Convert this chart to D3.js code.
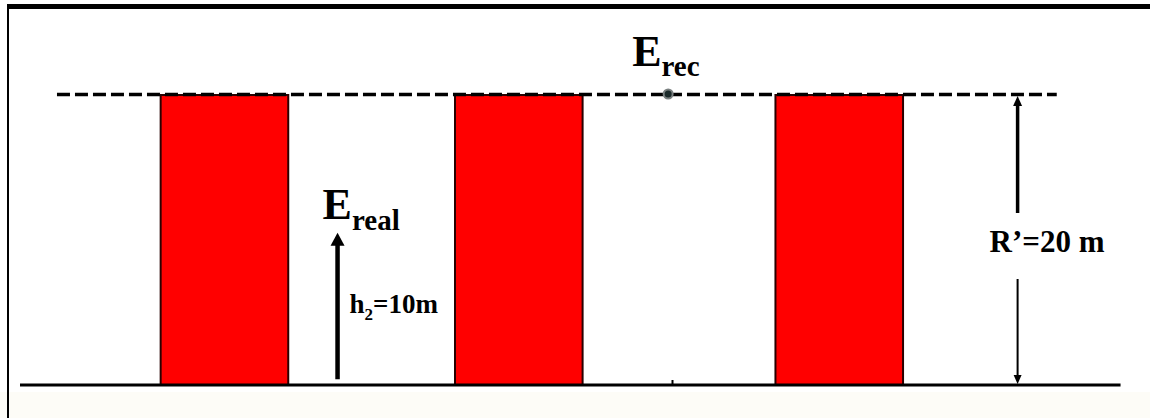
<!DOCTYPE html>
<html>
<head>
<meta charset="utf-8">
<script src="https://cdn.jsdelivr.net/npm/d3@7"></script>
<style>
  body { margin: 0; background: #fff; }
  text { font-family: "Liberation Serif", "Times New Roman", serif; font-weight: bold; fill: #000; }
</style>
</head>
<body>
<div id="sampleGraph"></div>
<script>
// values in metres
var buildingStart = [9.7, 30.0, 52.1];
var buildingWidth = 8.8;
var buildingHeight = 20;
var groundExtent = [0, 75.9];
var dashExtent = [2.55, 71.5];
var receiver = { x: 44.7, h: 20, label: "E", sub: "rec" };
var groundTick = 45.0;
var realPoint = { x: 21.9, from: 0.4, to: 10.5, label: "E", sub: "real" };
var h2Label = ["h", "2", "=10m"];
var rLabel = "R\u2019=20 m";
var rArrowX = 68.8;

var w = 1150, h = 418;
var svg, x, y;

// triangle head with its tip at (cx, cy); dir -1 = up, 1 = down
function head(cx, cy, hw, hl, dir){
  svg.append("path")
    .attr("d", "M" + cx + "," + cy +
               " L" + (cx + hw / 2) + "," + (cy - dir * hl) +
               " L" + (cx - hw / 2) + "," + (cy - dir * hl) + " Z")
    .attr("fill", "#000");
}

function main(){
  svg = d3.select("#sampleGraph")
    .append("svg")
    .attr("width", w)
    .attr("height", h);

  svg.append("rect").attr("width", w).attr("height", h).attr("fill", "#fff");
  svg.append("rect").attr("x", 0).attr("y", 392).attr("width", w).attr("height", h - 392).attr("fill", "#fdfcf7");

  // 14.5 px per metre both ways
  y = d3.scaleLinear().domain([0, 20]).range([385, 95]);
  x = d3.scaleLinear().domain([0, 20]).range([20, 310]);

  // frame
  svg.append("rect").attr("x", 7).attr("y", 4).attr("width", w - 7).attr("height", 5).attr("fill", "#000");
  svg.append("line").attr("x1", 8).attr("x2", 8).attr("y1", 4).attr("y2", h)
    .attr("stroke", "#000").attr("stroke-width", 2);

  // buildings
  svg.selectAll("rect.bld")
    .data(buildingStart)
    .enter()
    .append("rect")
    .attr("class", "bld")
    .attr("x", function(d){ return x(d); })
    .attr("y", y(buildingHeight))
    .attr("width", x(buildingWidth) - x(0))
    .attr("height", y(0) - y(buildingHeight))
    .attr("fill", "#ff0000")
    .attr("stroke", "#2a0000")
    .attr("stroke-width", 2);

  // dashed roof line
  svg.append("line")
    .attr("x1", x(dashExtent[0])).attr("x2", x(dashExtent[1]))
    .attr("y1", y(buildingHeight) - 0.5).attr("y2", y(buildingHeight) - 0.5)
    .attr("stroke", "#000").attr("stroke-width", 3.5)
    .attr("stroke-dasharray", "13,5");

  // ground
  svg.append("line")
    .attr("x1", x(groundExtent[0])).attr("x2", x(groundExtent[1]))
    .attr("y1", y(0)).attr("y2", y(0))
    .attr("stroke", "#000").attr("stroke-width", 3);
  svg.append("line")
    .attr("x1", x(groundTick)).attr("x2", x(groundTick))
    .attr("y1", y(0)).attr("y2", y(0) - 5)
    .attr("stroke", "#000").attr("stroke-width", 2);

  // receiver point
  svg.append("circle")
    .attr("cx", x(receiver.x)).attr("cy", y(receiver.h) - 1)
    .attr("r", 4.5)
    .attr("fill", "#1c2b2b").attr("stroke", "#7a8080").attr("stroke-width", 2);
  var t1 = svg.append("text")
    .attr("x", x(receiver.x) - 36).attr("y", y(receiver.h) - 29)
    .style("font-size", "44px");
  t1.append("tspan").text(receiver.label);
  t1.append("tspan").attr("dy", 10).style("font-size", "29px").text(receiver.sub);

  // real point arrow
  var ax = x(realPoint.x);
  svg.append("line")
    .attr("x1", ax).attr("x2", ax)
    .attr("y1", y(realPoint.from)).attr("y2", y(realPoint.to) + 10)
    .attr("stroke", "#000").attr("stroke-width", 4.5);
  head(ax, y(realPoint.to), 14, 13, -1);
  var t2 = svg.append("text")
    .attr("x", ax - 15).attr("y", y(realPoint.to) - 14)
    .style("font-size", "44px");
  t2.append("tspan").text(realPoint.label);
  t2.append("tspan").attr("dy", 11).style("font-size", "29px").text(realPoint.sub);

  var t3 = svg.append("text")
    .attr("x", ax + 12).attr("y", 313)
    .style("font-size", "27px");
  t3.append("tspan").text(h2Label[0]);
  t3.append("tspan").attr("dy", 7).style("font-size", "17px").text(h2Label[1]);
  t3.append("tspan").attr("dy", -7).text(h2Label[2]);

  // R' dimension arrow, broken by its label
  var rx = x(rArrowX);
  svg.append("line")
    .attr("x1", rx).attr("x2", rx)
    .attr("y1", 213).attr("y2", y(20) + 8)
    .attr("stroke", "#000").attr("stroke-width", 3.5);
  head(rx, y(20) + 1, 9, 10, -1);
  svg.append("line")
    .attr("x1", rx).attr("x2", rx)
    .attr("y1", 279).attr("y2", y(0) - 8)
    .attr("stroke", "#000").attr("stroke-width", 2);
  head(rx, y(0) - 1, 8, 9, 1);
  svg.append("text")
    .attr("x", rx - 28).attr("y", 252)
    .style("font-size", "31px")
    .text(rLabel);
}

main();
</script>
</body>
</html>
